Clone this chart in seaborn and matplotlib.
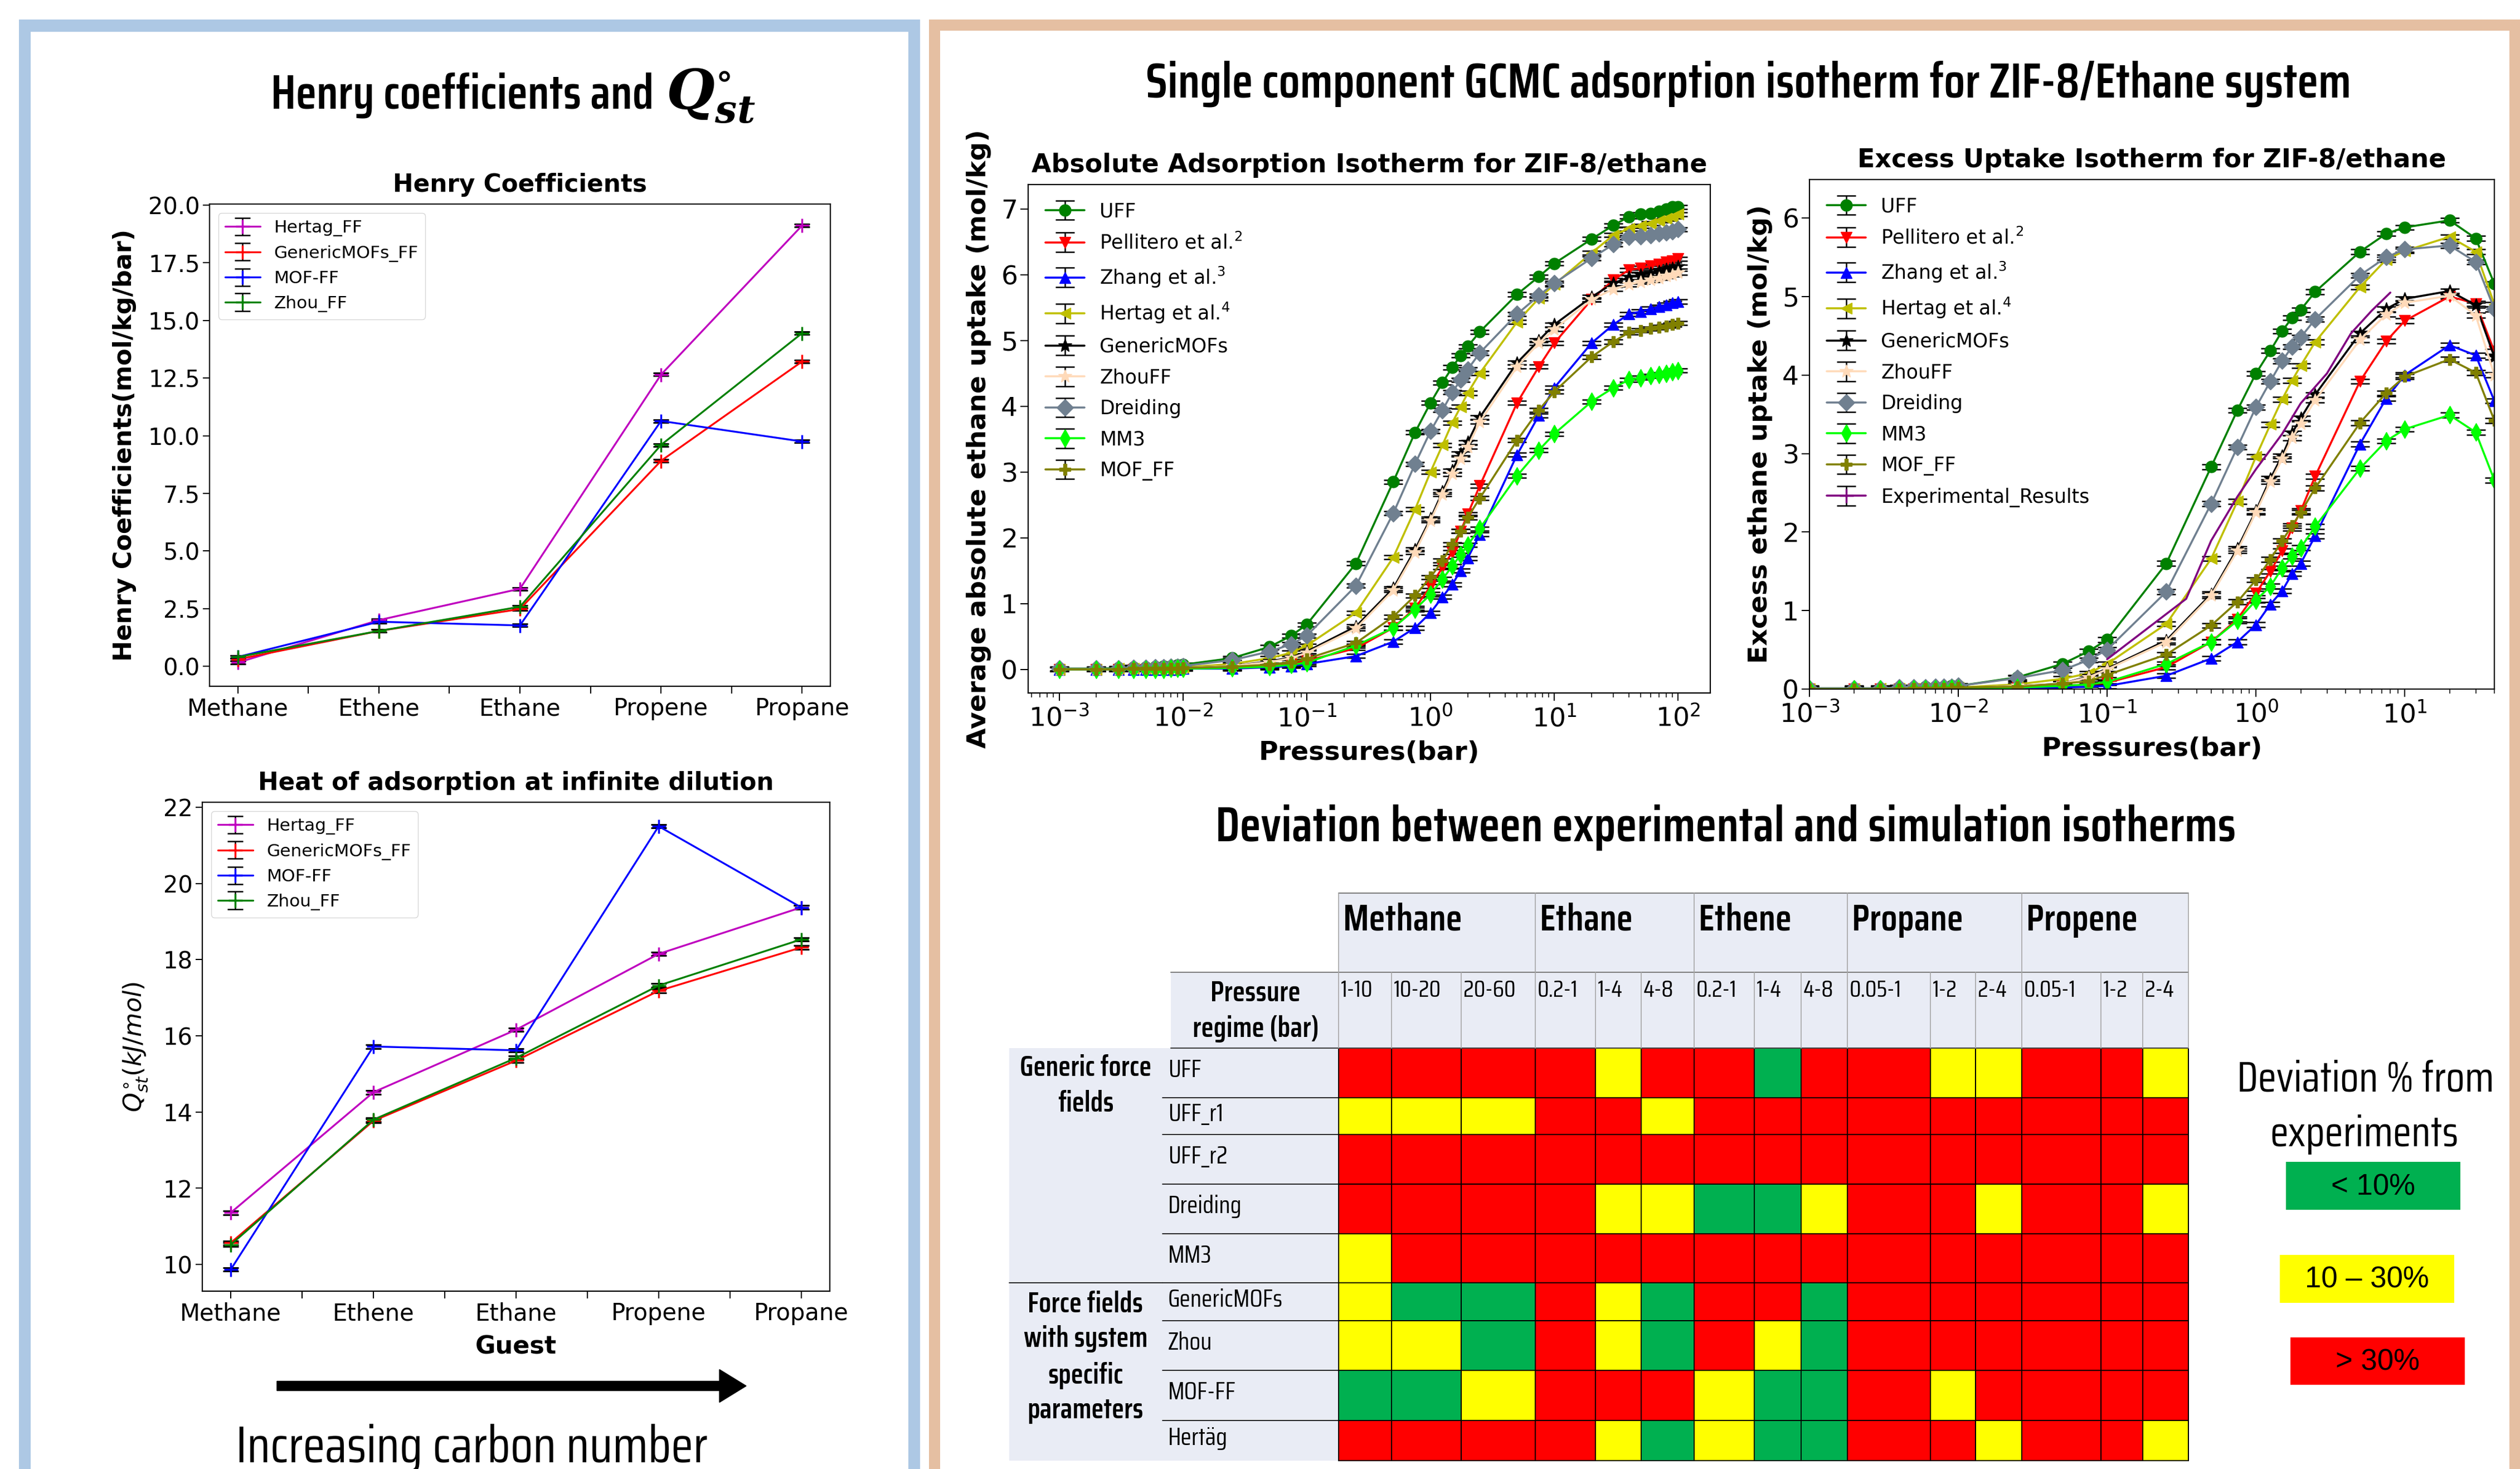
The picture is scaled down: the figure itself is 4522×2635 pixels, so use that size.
import numpy as np
import matplotlib
matplotlib.use("Agg")
import matplotlib.pyplot as plt
import seaborn as sns
from matplotlib import font_manager as fm
from matplotlib.colors import ListedColormap
from matplotlib.patches import Rectangle, FancyArrow
from matplotlib.lines import Line2D
from matplotlib.collections import LineCollection
from matplotlib.container import ErrorbarContainer

# ============================ DATA ============================
GUESTS = ["Methane", "Ethene", "Ethane", "Propene", "Propane"]
HENRY_LABELS = ["Hertag_FF", "GenericMOFs_FF", "MOF-FF", "Zhou_FF"]
HENRY_HERTAG = [0.16, 2.00, 3.36, 12.65, 19.12]
HENRY_GENERIC = [0.30, 1.53, 2.48, 8.91, 13.22]
HENRY_MOFFF = [0.40, 1.93, 1.77, 10.64, 9.75]
HENRY_ZHOU = [0.40, 1.53, 2.58, 9.60, 14.45]
HENRY_ERR = 0.06

QST_HERTAG = [11.36, 14.52, 16.16, 18.15, 19.37]
QST_GENERIC = [10.57, 13.77, 15.35, 17.18, 18.32]
QST_MOFFF = [9.87, 15.72, 15.62, 21.50, 19.37]
QST_ZHOU = [10.52, 13.80, 15.42, 17.32, 18.53]
QST_ERR = 0.05

PRESSURES = [0.001, 0.002, 0.003, 0.004, 0.005, 0.006, 0.007, 0.008, 0.009, 0.01,
             0.025, 0.05, 0.075, 0.1, 0.25, 0.5, 0.75, 1.0, 1.25, 1.5, 1.75, 2.0, 2.5,
             5.0, 7.5, 10.0, 20.0, 30.0, 40.0, 50.0, 60.0, 70.0, 80.0, 90.0, 100.0]
ISO_LABELS = ["UFF", r"Pellitero et al.$^{2}$", r"Zhang et al.$^{3}$", r"Hertag et al.$^{4}$",
              "GenericMOFs", "ZhouFF", "Dreiding", "MM3", "MOF_FF"]
EXP_LABEL = "Experimental_Results"

ABS_UFF = [0.01, 0.01, 0.02, 0.03, 0.03, 0.04, 0.05, 0.05, 0.06, 0.07, 0.17, 0.34, 0.51, 0.68,
           1.61, 2.85, 3.60, 4.05, 4.36, 4.59, 4.77, 4.91, 5.13, 5.70, 5.97, 6.17, 6.54, 6.75,
           6.88, 6.92, 6.93, 6.96, 7.00, 7.03, 7.03]
ABS_PELLITERO = [0.00, 0.00, 0.00, 0.00, 0.00, 0.00, 0.01, 0.01, 0.01, 0.01, 0.02, 0.05, 0.08, 0.13,
                 0.32, 0.63, 0.93, 1.26, 1.55, 1.78, 2.10, 2.36, 2.79, 4.05, 4.60, 4.96, 5.62, 5.92,
                 6.07, 6.10, 6.13, 6.16, 6.19, 6.21, 6.24]
ABS_ZHANG = [0.00, 0.00, 0.00, 0.00, 0.00, 0.00, 0.00, 0.00, 0.00, 0.01, 0.01, 0.03, 0.05, 0.08,
             0.20, 0.42, 0.63, 0.86, 1.10, 1.29, 1.50, 1.69, 2.05, 3.26, 3.86, 4.28, 4.96, 5.24,
             5.40, 5.44, 5.48, 5.51, 5.54, 5.57, 5.59]
ABS_HERTAG = [0.00, 0.00, 0.01, 0.01, 0.01, 0.01, 0.02, 0.02, 0.02, 0.03, 0.08, 0.17, 0.25, 0.36,
              0.86, 1.70, 2.43, 3.00, 3.41, 3.75, 3.99, 4.20, 4.50, 5.28, 5.64, 5.85, 6.33, 6.60,
              6.70, 6.74, 6.78, 6.82, 6.85, 6.88, 6.92]
ABS_GENERIC = [0.00, 0.00, 0.00, 0.01, 0.01, 0.01, 0.01, 0.01, 0.01, 0.02, 0.05, 0.12, 0.18, 0.27,
               0.65, 1.23, 1.82, 2.29, 2.70, 3.02, 3.28, 3.45, 3.83, 4.66, 5.00, 5.24, 5.66, 5.87,
               5.96, 6.00, 6.02, 6.05, 6.08, 6.10, 6.12]
ABS_ZHOU = [0.00, 0.00, 0.00, 0.01, 0.01, 0.01, 0.01, 0.01, 0.01, 0.02, 0.05, 0.11, 0.17, 0.25,
            0.62, 1.20, 1.78, 2.26, 2.66, 2.97, 3.20, 3.38, 3.76, 4.60, 4.96, 5.17, 5.62, 5.78,
            5.85, 5.89, 5.92, 5.95, 5.98, 6.00, 6.03]
ABS_DREIDING = [0.01, 0.01, 0.01, 0.02, 0.02, 0.03, 0.03, 0.04, 0.04, 0.05, 0.14, 0.27, 0.38, 0.51,
                1.27, 2.37, 3.12, 3.62, 3.94, 4.21, 4.40, 4.56, 4.81, 5.40, 5.68, 5.87, 6.25, 6.46,
                6.57, 6.58, 6.60, 6.62, 6.64, 6.66, 6.69]
ABS_MM3 = [0.00, 0.00, 0.00, 0.00, 0.00, 0.00, 0.00, 0.01, 0.01, 0.01, 0.02, 0.04, 0.07, 0.10,
           0.36, 0.63, 0.91, 1.14, 1.37, 1.57, 1.74, 1.89, 2.14, 2.94, 3.33, 3.58, 4.07, 4.28,
           4.40, 4.43, 4.46, 4.48, 4.50, 4.52, 4.54]
ABS_MOFFF = [0.00, 0.00, 0.00, 0.01, 0.01, 0.01, 0.01, 0.01, 0.01, 0.02, 0.04, 0.07, 0.11, 0.16,
             0.40, 0.80, 1.12, 1.40, 1.65, 1.90, 2.10, 2.31, 2.60, 3.48, 3.94, 4.22, 4.75, 4.98,
             5.12, 5.15, 5.18, 5.20, 5.22, 5.24, 5.26]

EXC_UFF = [0.01, 0.01, 0.01, 0.02, 0.02, 0.03, 0.03, 0.03, 0.04, 0.04, 0.15, 0.32, 0.48, 0.63,
           1.60, 2.83, 3.55, 4.02, 4.31, 4.56, 4.73, 4.83, 5.06, 5.57, 5.80, 5.88, 5.97, 5.74, 5.16]
EXC_PELLITERO = [0.00, 0.00, 0.00, 0.00, 0.00, 0.00, 0.00, 0.01, 0.01, 0.01, 0.02, 0.04, 0.06, 0.08,
                 0.28, 0.60, 0.89, 1.22, 1.50, 1.76, 2.05, 2.27, 2.71, 3.92, 4.43, 4.69, 5.00, 4.91, 4.30]
EXC_ZHANG = [0.00, 0.00, 0.00, 0.00, 0.00, 0.00, 0.00, 0.00, 0.00, 0.00, 0.01, 0.02, 0.03, 0.04,
             0.17, 0.39, 0.60, 0.82, 1.08, 1.25, 1.47, 1.60, 1.95, 3.12, 3.70, 4.00, 4.38, 4.25, 3.67]
EXC_HERTAG = [0.00, 0.00, 0.01, 0.01, 0.01, 0.01, 0.02, 0.02, 0.02, 0.02, 0.06, 0.13, 0.20, 0.32,
              0.83, 1.66, 2.39, 2.96, 3.37, 3.69, 3.93, 4.12, 4.42, 5.12, 5.47, 5.58, 5.76, 5.57, 4.90]
EXC_GENERIC = [0.00, 0.00, 0.00, 0.00, 0.01, 0.01, 0.01, 0.01, 0.01, 0.01, 0.04, 0.07, 0.16, 0.26,
               0.62, 1.21, 1.79, 2.27, 2.68, 2.97, 3.26, 3.45, 3.75, 4.53, 4.84, 4.97, 5.07, 4.89, 4.23]
EXC_ZHOU = [0.00, 0.00, 0.00, 0.00, 0.01, 0.01, 0.01, 0.01, 0.01, 0.01, 0.04, 0.07, 0.15, 0.25,
            0.60, 1.19, 1.76, 2.25, 2.64, 2.93, 3.20, 3.38, 3.68, 4.45, 4.77, 4.92, 5.01, 4.76, 4.00]
EXC_DREIDING = [0.01, 0.01, 0.01, 0.02, 0.02, 0.02, 0.03, 0.03, 0.03, 0.04, 0.14, 0.24, 0.37, 0.50,
                1.24, 2.36, 3.08, 3.59, 3.92, 4.18, 4.36, 4.48, 4.71, 5.27, 5.50, 5.60, 5.65, 5.44, 4.84]
EXC_MM3 = [0.00, 0.00, 0.00, 0.00, 0.00, 0.00, 0.00, 0.00, 0.01, 0.01, 0.02, 0.04, 0.06, 0.09,
           0.32, 0.60, 0.87, 1.13, 1.31, 1.54, 1.69, 1.80, 2.07, 2.81, 3.16, 3.31, 3.49, 3.27, 2.66]
EXC_MOFFF = [0.00, 0.00, 0.00, 0.00, 0.01, 0.01, 0.01, 0.01, 0.01, 0.02, 0.03, 0.07, 0.10, 0.18,
             0.44, 0.81, 1.11, 1.39, 1.65, 1.89, 2.08, 2.25, 2.56, 3.39, 3.77, 3.98, 4.20, 4.03, 3.42]
EXP_PRESSURES = [0.1, 0.34, 0.5, 0.75, 1.0, 1.5, 2.0, 3.0, 4.35, 6.0, 8.0]
EXP_EXCESS = [0.38, 1.15, 1.89, 2.45, 2.80, 3.25, 3.64, 4.02, 4.53, 4.82, 5.05]
ISO_ERR = 0.03

TABLE_GASES = ["Methane", "Ethane", "Ethene", "Propane", "Propene"]
TABLE_RANGES = ["1-10", "10-20", "20-60", "0.2-1", "1-4", "4-8", "0.2-1", "1-4", "4-8",
                "0.05-1", "1-2", "2-4", "0.05-1", "1-2", "2-4"]
TABLE_FF = ["UFF", "UFF_r1", "UFF_r2", "Dreiding", "MM3", "GenericMOFs", "Zhou", "MOF-FF", "Hertäg"]
TABLE_GROUPS = [["Generic force", "fields"], ["Force fields", "with system", "specific", "parameters"]]
# G: < 10 %, Y: 10-30 %, R: > 30 %
TABLE_DEV = ["RRRRYRRGRRYYRRY",
             "YYYRRYRRRRRRRRR",
             "RRRRRRRRRRRRRRR",
             "RRRRYYGGYRRYRRY",
             "YRRRRRRRRRRRRRR",
             "YGGRYGRRGRRRRRR",
             "YYGRYGRYGRRRRRR",
             "GGYRRRYGGRYRRRR",
             "RRRRYGYGGRRYRRY"]
DEV_LEGEND = ["< 10%", "10 – 30%", "> 30%"]

# ============================ STYLE ============================
sns.set_theme(style="ticks", color_codes=False)
plt.rcParams.update({
    "font.family": ["DejaVu Sans"],
    "mathtext.fontset": "dejavusans",
    "axes.edgecolor": "black", "axes.labelcolor": "black", "text.color": "black",
    "xtick.color": "black", "ytick.color": "black",
    "axes.linewidth": 1.6,
    "xtick.major.size": 9, "ytick.major.size": 9, "xtick.major.width": 1.5, "ytick.major.width": 1.5,
    "xtick.minor.size": 5, "ytick.minor.size": 5, "xtick.minor.width": 1.1, "ytick.minor.width": 1.1,
    "axes.facecolor": "white", "figure.facecolor": "white",
})

available = {f.name for f in fm.fontManager.ttflist}
COND = "Saira Condensed" if "Saira Condensed" in available else (
    "Roboto Condensed" if "Roboto Condensed" in available else "DejaVu Sans")
HEAD = [COND, "DejaVu Sans"]
ARIAL = ["Liberation Sans", "DejaVu Sans"]

W, H = 4522, 2635
fig = plt.figure(figsize=(W / 100, H / 100), dpi=100)
renderer = fig.canvas.get_renderer()


def px_rect(l, t, r, b):
    return [l / W, 1 - b / H, (r - l) / W, (b - t) / H]


def fit_width(texts, sample, target_px):
    """Scale the font size of a group of texts so that `sample` is target_px wide."""
    w = sample.get_window_extent(renderer).width
    scale = target_px / w
    for t in texts:
        t.set_fontsize(t.get_fontsize() * scale)


def eb_handle(color, marker, ms, lw, capsize, mew=1.0):
    line = Line2D([], [], color=color, marker=marker, markersize=ms, markeredgecolor=color,
                  markerfacecolor=color, markeredgewidth=mew, linewidth=lw)
    cap = Line2D([], [], color="black", marker="_", markersize=2 * capsize,
                 markeredgewidth=1.8, linestyle="none")
    bar = LineCollection([], colors="black", linewidths=1.8)
    return ErrorbarContainer((line, (cap, cap), (bar,)), has_xerr=False, has_yerr=True)


# ---------------- background canvas (frames, headings, table) ----------------
bg = fig.add_axes([0, 0, 1, 1])
bg.set_xlim(0, W)
bg.set_ylim(H, 0)
bg.axis("off")

BLUE, TAN = "#ADC8E4", "#E5BFA2"
bg.add_patch(Rectangle((34, 35), 1651 - 34, H, fc=BLUE, ec="none"))
bg.add_patch(Rectangle((55, 57), 1630 - 55, H, fc="white", ec="none"))
bg.add_patch(Rectangle((1667, 35), W, H, fc=TAN, ec="none"))
bg.add_patch(Rectangle((1687, 55), 4503 - 1687, H, fc="white", ec="none"))

t1 = bg.text(0, 0, "Henry coefficients and ", family=HEAD, weight="semibold", fontsize=57,
             ha="left", va="baseline")
fit_width([t1], t1, 705)
qst = bg.text(0, 0, r"$\boldsymbol{Q}^{\circ}_{\boldsymbol{st}}$", fontsize=t1.get_fontsize() * 1.15,
              ha="left", va="baseline", math_fontfamily="dejavuserif")
w1 = t1.get_window_extent(renderer).width
w2 = qst.get_window_extent(renderer).width
x0 = 918 - (w1 + w2) / 2
t1.set_position((x0, 195))
qst.set_position((x0 + w1 + 6, 195))

t = bg.text(3138, 150, "Single component GCMC adsorption isotherm for ZIF-8/Ethane system",
            family=HEAD, weight="semibold", fontsize=57, ha="center", va="center")
fit_width([t], t, 2166)
t = bg.text(3097, 1485, "Deviation between experimental and simulation isotherms",
            family=HEAD, weight="semibold", fontsize=57, ha="center", va="center")
fit_width([t], t, 1831)
t = bg.text(847, 2597, "Increasing carbon number", family=HEAD, fontsize=64, ha="center", va="center")
fit_width([t], t, 847)
bg.add_patch(FancyArrow(497, 2486, 842, 0, width=17, head_width=59, head_length=48,
                        length_includes_head=True, color="black"))

# ---------------- deviation table ----------------
COL_X = [2402, 2497, 2622, 2755, 2863, 2945, 3040, 3148, 3232, 3315, 3464, 3545, 3628, 3770, 3845, 3927]
ROW_Y = [1880, 1969, 2035, 2124, 2213, 2301, 2369, 2458, 2548, 2620]
GAS_SPAN = 3
HEAD_TOP, HEAD_MID = 1602, 1744
GROUP_X0, LABEL_X0, PBOX_X0 = 1811, 2086, 2101
LIGHT = "#E9ECF5"

bg.add_patch(Rectangle((COL_X[0], HEAD_TOP), COL_X[-1] - COL_X[0], HEAD_MID - HEAD_TOP, fc=LIGHT, ec="none"))
bg.add_patch(Rectangle((PBOX_X0, HEAD_MID), COL_X[-1] - PBOX_X0, ROW_Y[0] - HEAD_MID, fc=LIGHT, ec="none"))
bg.add_patch(Rectangle((GROUP_X0, ROW_Y[0]), COL_X[0] - GROUP_X0, ROW_Y[-1] - ROW_Y[0], fc=LIGHT, ec="none"))

code_map = {"G": 0, "Y": 1, "R": 2}
dev_matrix = np.array([[code_map[c] for c in row] for row in TABLE_DEV])
dev_cmap = ListedColormap(["#00B050", "#FFFF00", "#FF0000"])
bg.pcolormesh(COL_X, ROW_Y, dev_matrix, cmap=dev_cmap, vmin=-0.5, vmax=2.5,
              edgecolors="black", linewidth=1.2)

# header lines
bg.plot([COL_X[0], COL_X[-1]], [HEAD_TOP, HEAD_TOP], color="#7F7F7F", lw=1.5)
bg.plot([COL_X[0], COL_X[-1]], [HEAD_MID, HEAD_MID], color="#7F7F7F", lw=1.5)
bg.plot([PBOX_X0, COL_X[0]], [HEAD_MID, HEAD_MID], color="#7F7F7F", lw=1.5)
bg.plot([PBOX_X0, COL_X[-1]], [ROW_Y[0], ROW_Y[0]], color="#404040", lw=1.5)
for k in range(0, len(COL_X), GAS_SPAN):
    bg.plot([COL_X[k], COL_X[k]], [HEAD_TOP, HEAD_MID], color="#A6A6A6", lw=1.2)
for xc in COL_X:
    bg.plot([xc, xc], [HEAD_MID, ROW_Y[0]], color="#A6A6A6", lw=1.2)
for yr in ROW_Y[1:-1]:
    bg.plot([LABEL_X0, COL_X[0]], [yr, yr], color="black", lw=1.2)
bg.plot([GROUP_X0, LABEL_X0], [ROW_Y[5], ROW_Y[5]], color="black", lw=1.2)

gas_txt = [bg.text(COL_X[g * GAS_SPAN] + 8, 1650, gas, family=HEAD, weight="semibold", fontsize=46,
                   ha="left", va="center") for g, gas in enumerate(TABLE_GASES)]
fit_width(gas_txt, gas_txt[0], 213)
rng_txt = [bg.text(COL_X[i] + 4, 1776, rng, family=HEAD, fontsize=27, ha="left", va="center")
           for i, rng in enumerate(TABLE_RANGES)]
fit_width(rng_txt, rng_txt[2], 94)
p1 = bg.text(2253, 1782, "Pressure", family=HEAD, weight="semibold", fontsize=34, ha="center", va="center")
p2 = bg.text(2253, 1846, "regime (bar)", family=HEAD, weight="semibold", fontsize=34, ha="center", va="center")
fit_width([p1, p2], p2, 227)
ff_txt = []
for i, ff in enumerate(TABLE_FF):
    yc = ROW_Y[i] + 0.45 * (ROW_Y[i + 1] - ROW_Y[i])
    ff_txt.append(bg.text(2096, yc, ff, family=HEAD, fontsize=29, ha="left", va="center"))
fit_width(ff_txt, ff_txt[5], 206)
GROUP_LINE_Y = [[1916, 1980], [2339, 2402, 2467, 2529]]
grp_txt = []
for lines, ys in zip(TABLE_GROUPS, GROUP_LINE_Y):
    for txt, yy in zip(lines, ys):
        grp_txt.append(bg.text(1948, yy, txt, family=HEAD, weight="semibold", fontsize=32,
                               ha="center", va="center"))
fit_width(grp_txt, grp_txt[0], 237)

# deviation legend
d1 = bg.text(4245, 1937, "Deviation % from", family=HEAD, fontsize=53, ha="center", va="center")
d2 = bg.text(4243, 2035, "experiments", family=HEAD, fontsize=53, ha="center", va="center")
fit_width([d1, d2], d1, 461)
LEG_BOXES = [(4102, 2084, 4415, 2170), (4091, 2251, 4404, 2337), (4110, 2399, 4423, 2484)]
for (l, tp, r, b), lab, col in zip(LEG_BOXES, DEV_LEGEND, ["#00B050", "#FFFF00", "#FF0000"]):
    bg.add_patch(Rectangle((l, tp), r - l, b - tp, fc=col, ec="none"))
    bg.text((l + r) / 2, (tp + b) / 2 + 2, lab, family=ARIAL, fontsize=38, ha="center", va="center")

# ---------------- Henry coefficient & heat of adsorption ----------------
HENRY_COLORS = ["#BF00BF", "#FF0000", "#0000FF", "#008000"]


def guest_plot(ax, series, err, title, ylabel, ylim, yticks, ytickfmt, ylabelpad, xlabel=None):
    handles = []
    for vals, col in zip(series, HENRY_COLORS):
        sns.lineplot(x=GUESTS, y=vals, ax=ax, color=col, marker="+", markersize=18,
                     markeredgewidth=2.5, markeredgecolor=col, linewidth=2.4, errorbar=None)
        ax.errorbar(GUESTS, vals, yerr=err, fmt="none", ecolor="black", elinewidth=1.5,
                    capsize=10, capthick=2.2, zorder=1.9)
        handles.append(eb_handle(col, "+", 18, 2.4, 10, mew=2.5))
    ax.set_xlim(-0.2, len(GUESTS) - 0.8)
    ax.set_ylim(*ylim)
    half = np.arange(0, len(GUESTS) - 0.99, 0.5)
    ax.set_xticks(half)
    ax.set_xticklabels([GUESTS[int(v)] if float(v).is_integer() else "" for v in half])
    ax.set_yticks(yticks)
    ax.set_yticklabels([ytickfmt.format(v) for v in yticks])
    ax.tick_params(labelsize=30, length=9, width=1.5)
    ax.tick_params(axis="x", pad=5)
    ax.set_title(title, fontsize=31.5, weight="bold", pad=16)
    ax.set_ylabel(ylabel, fontsize=32, weight="bold" if "$" not in ylabel else "normal",
                  labelpad=ylabelpad)
    if xlabel:
        ax.set_xlabel(xlabel, fontsize=32, weight="bold", labelpad=12)
    else:
        ax.set_xlabel("")
    ax.legend(handles, HENRY_LABELS, loc="upper left", fontsize=22.5, frameon=True,
              fancybox=True, framealpha=0.8, edgecolor="0.8")
    for s in ax.spines.values():
        s.set_visible(True)


ax_h = fig.add_axes(px_rect(376, 366, 1490, 1231))
guest_plot(ax_h, [HENRY_HERTAG, HENRY_GENERIC, HENRY_MOFFF, HENRY_ZHOU], HENRY_ERR,
           "Henry Coefficients", "Henry Coefficients(mol/kg/bar)", (-0.87, 20.05),
           np.arange(0, 20.01, 2.5), "{:.1f}", 15)
ax_q = fig.add_axes(px_rect(363, 1439, 1489, 2316))
guest_plot(ax_q, [QST_HERTAG, QST_GENERIC, QST_MOFFF, QST_ZHOU], QST_ERR,
           "Heat of adsorption at infinite dilution", r"$Q^{\circ}_{st}(kJ/mol)$", (9.3, 22.13),
           np.arange(10, 22.01, 2), "{:.0f}", 18, xlabel="Guest")

# ---------------- isotherms ----------------
ISO_COLORS = ["#008000", "#FF0000", "#0000FF", "#BFBF00", "#000000", "#FFDAB9", "#708090", "#00FF00", "#808000"]
ISO_MARKERS = ["o", "v", "^", "<", "*", "*", "D", "d", "P"]
ISO_MS = [15, 15, 15, 15, 18, 18, 15, 16, 15]


def isotherm(ax, series, title, ylabel, xlim, ylim, yticks, extra=None):
    handles, labels = [], []
    for vals, lab, col, mk, ms in zip(series, ISO_LABELS, ISO_COLORS, ISO_MARKERS, ISO_MS):
        p = PRESSURES[:len(vals)]
        sns.lineplot(x=p, y=vals, ax=ax, color=col, marker=mk, markersize=ms,
                     markeredgecolor=col, markerfacecolor=col, markeredgewidth=1.0,
                     linewidth=2.6, errorbar=None)
        ax.errorbar(p, vals, yerr=ISO_ERR, fmt="none", ecolor="black", elinewidth=1.4,
                    capsize=12, capthick=1.8, zorder=1.9)
        handles.append(eb_handle(col, mk, ms, 2.6, 12))
        labels.append(lab)
    if extra is not None:
        px_, py_, col = extra
        sns.lineplot(x=px_, y=py_, ax=ax, color=col, linewidth=2.6, errorbar=None)
        handles.append(eb_handle(col, "+", 18, 2.6, 12, mew=2.5))
        labels.append(EXP_LABEL)
    ax.set_xscale("log")
    ax.set_xlim(*xlim)
    ax.set_ylim(*ylim)
    ax.set_yticks(yticks)
    ax.tick_params(which="major", labelsize=34, length=10, width=1.5)
    ax.tick_params(which="minor", length=5.5, width=1.1)
    ax.tick_params(axis="x", which="major", pad=6)
    ax.set_title(title, fontsize=33, weight="bold", pad=16)
    ax.set_xlabel("Pressures(bar)", fontsize=34, weight="bold", labelpad=11)
    ax.set_ylabel(ylabel, fontsize=34, weight="bold", labelpad=12)
    ax.legend(handles, labels, loc="upper left", fontsize=25, frameon=False, labelspacing=0.62)
    for s in ax.spines.values():
        s.set_visible(True)


ax_a = fig.add_axes(px_rect(1845, 331, 3069, 1243))
isotherm(ax_a, [ABS_UFF, ABS_PELLITERO, ABS_ZHANG, ABS_HERTAG, ABS_GENERIC, ABS_ZHOU,
                ABS_DREIDING, ABS_MM3, ABS_MOFFF],
         "Absolute Adsorption Isotherm for ZIF-8/ethane", "Average absolute ethane uptake (mol/kg)",
         (10 ** -3.25, 10 ** 2.26), (-0.36, 7.37), range(0, 8))

ax_e = fig.add_axes(px_rect(3247, 322, 4476, 1236))
isotherm(ax_e, [EXC_UFF, EXC_PELLITERO, EXC_ZHANG, EXC_HERTAG, EXC_GENERIC, EXC_ZHOU,
                EXC_DREIDING, EXC_MM3, EXC_MOFFF],
         "Excess Uptake Isotherm for ZIF-8/ethane", "Excess ethane uptake (mol/kg)",
         (1e-3, 40), (0, 6.49), range(0, 7), extra=(EXP_PRESSURES, EXP_EXCESS, "#800080"))

fig.savefig("out.png", dpi=100)
